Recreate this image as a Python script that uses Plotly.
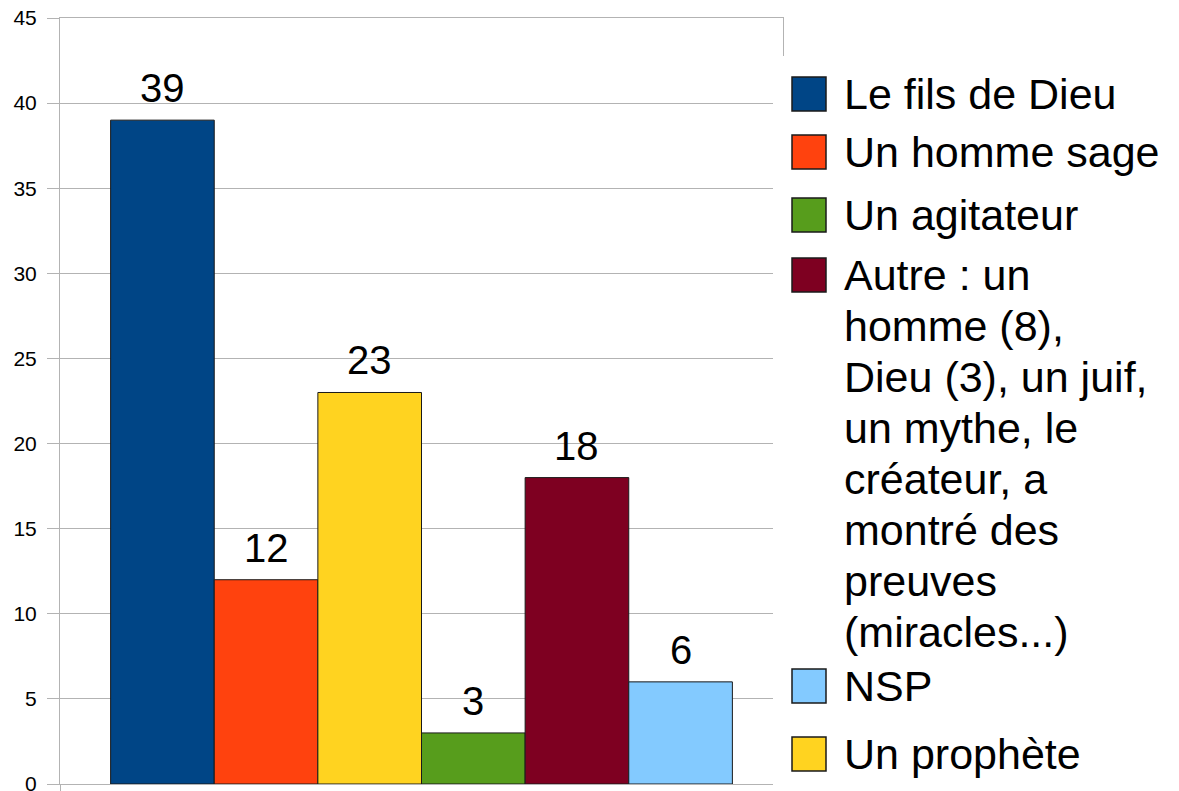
import plotly.graph_objects as go

# ---- data ----
series_names = ["Le fils de Dieu", "Un homme sage", "Un prophète",
                "Un agitateur", "Autre", "NSP"]
series_values = [39, 12, 23, 3, 18, 6]
series_colors = ["#004586", "#ff420e", "#ffd320", "#579d1c", "#7e0021", "#83caff"]
legend_order = [0, 1, 3, 4, 5, 2]
legend_lines = {
    0: ["Le fils de Dieu"],
    1: ["Un homme sage"],
    2: ["Un prophète"],
    3: ["Un agitateur"],
    4: ["Autre : un", "homme (8),", "Dieu (3), un juif,", "un mythe, le",
        "créateur, a", "montré des", "preuves", "(miracles...)"],
    5: ["NSP"],
}
y_ticks = [0, 5, 10, 15, 20, 25, 30, 35, 40, 45]

W, H = 1179, 791
PL, PR, PT, PB = 60, 783, 18, 784  # plot area in pixels
FONT = "Liberation Sans, Arial, sans-serif"
BARGAP = 0.14


def px_x(p):
    return (p - PL) / (PR - PL)


def px_y(p):
    return (PB - p) / (PB - PT)


fig = go.Figure()
n = len(series_values)
bar_w = (1 - BARGAP) / n
annotations = []
for i, (name, val, col) in enumerate(zip(series_names, series_values, series_colors)):
    fig.add_trace(go.Bar(
        x=[0], y=[val], name=name,
        marker=dict(color=col, line=dict(color="#1a1a1a", width=1)),
        showlegend=False,
    ))
    # value label above the bar (centre of the i-th bar inside the group)
    annotations.append(dict(
        xref="x", yref="y", x=-(1 - BARGAP) / 2 + (i + 0.5) * bar_w, y=val,
        xanchor="center", yanchor="bottom", yshift=8, text=str(val),
        showarrow=False, font=dict(size=40, color="black", family=FONT),
    ))

shapes = []
# white legend area covering grid lines on the right
shapes.append(dict(type="rect", xref="paper", yref="paper",
                   x0=px_x(773), x1=px_x(W + 5), y0=px_y(H + 5), y1=px_y(56),
                   fillcolor="white", line=dict(width=0), layer="above"))
legend_y = [94, 152, 215, 275, 686, 754]
line_step = 51
for idx, ycen in zip(legend_order, legend_y):
    shapes.append(dict(type="rect", xref="paper", yref="paper",
                       x0=px_x(792), x1=px_x(826),
                       y0=px_y(ycen + 17), y1=px_y(ycen - 17),
                       fillcolor=series_colors[idx],
                       line=dict(color="#1a1a1a", width=1.5), layer="above"))
    for k, line in enumerate(legend_lines[idx]):
        annotations.append(dict(
            xref="paper", yref="paper", x=px_x(842), y=px_y(ycen + k * line_step),
            xanchor="left", yanchor="middle", text=line, showarrow=False,
            font=dict(size=43, color="black", family=FONT),
        ))

fig.update_layout(
    width=W, height=H,
    margin=dict(l=PL, r=W - PR, t=PT, b=H - PB, pad=0, autoexpand=False),
    paper_bgcolor="white", plot_bgcolor="white",
    barmode="group", bargap=BARGAP, bargroupgap=0,
    font=dict(family=FONT, color="black"),
    shapes=shapes, annotations=annotations,
    xaxis=dict(range=[-0.5, 0.5], tickvals=[-0.5, 0.5], ticktext=["", ""],
               showgrid=False, zeroline=False, showline=True, mirror=True,
               linecolor="#b3b3b3", linewidth=1, ticks="outside", ticklen=7,
               tickcolor="#b3b3b3", automargin=False),
    yaxis=dict(range=[0, 45], tickvals=y_ticks, showgrid=True,
               gridcolor="#b3b3b3", gridwidth=1, zeroline=False,
               showline=True, mirror=True, linecolor="#b3b3b3", linewidth=1,
               ticks="outside", ticklen=12, tickcolor="#b3b3b3",
               ticklabelstandoff=6, automargin=False,
               ticklabeloverflow="allow",
               tickfont=dict(size=21, color="black", family=FONT)),
)

fig.write_html("out.html",
               config={"displayModeBar": False},
               post_script="document.body.style.margin='0';"
                           "document.body.style.overflow='hidden';")
